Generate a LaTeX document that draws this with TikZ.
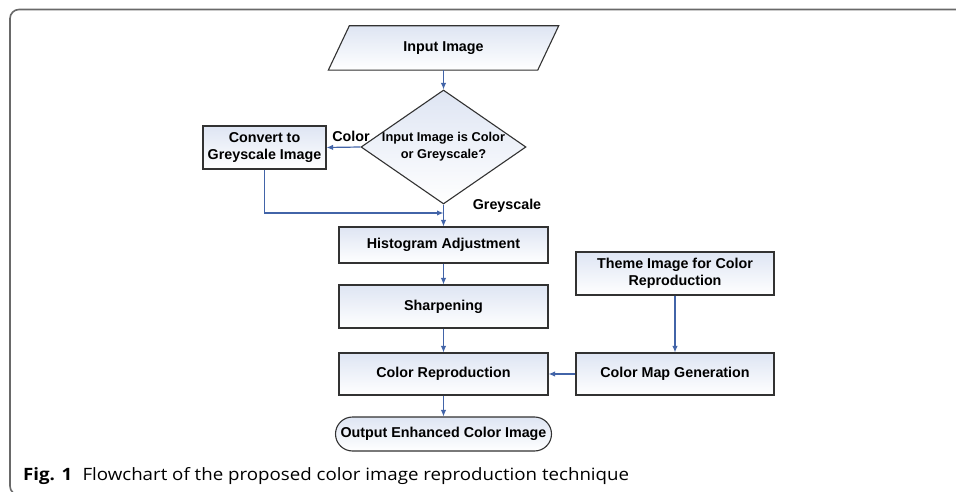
\documentclass[tikz,border=0pt]{standalone}
\usepackage{fontspec}
\setmainfont{Liberation Sans}
\newfontfamily\capfont{Open Sans}
\usetikzlibrary{shapes.geometric,arrows.meta}
\definecolor{arrowblue}{RGB}{66,100,168}
\definecolor{boxtop}{RGB}{222,229,243}
\definecolor{boxline}{RGB}{50,50,50}
\definecolor{framegray}{RGB}{105,105,105}
\tikzset{
  boxfill/.style={top color=boxtop, bottom color=white, shading=axis},
  procbox/.style={draw=boxline, line width=1.1pt, boxfill, rectangle, inner sep=0pt,
    align=center, font=\bfseries\fontsize{14.3}{17}\selectfont},
  decbox/.style={draw=boxline, line width=1.1pt, boxfill, diamond, inner sep=0pt,
    aspect=1.45, align=center, font=\bfseries\fontsize{12.8}{17}\selectfont},
  lbl/.style={font=\bfseries\fontsize{14.3}{17}\selectfont, inner sep=0pt},
  flow/.style={draw=arrowblue, line width=1.2pt, -{Latex[length=6.5pt,width=5.5pt]}},
}
\begin{document}
\begin{tikzpicture}[x=1pt,y=-1pt]
\useasboundingbox (0,0) rectangle (956,492);
\fill[white] (0,0) rectangle (956,492);
\begin{scope}
\clip (0,0) rectangle (956,492);
\draw[framegray, line width=1.6pt, rounded corners=9pt] (10,9.5) rectangle (990,495);
\end{scope}

% input parallelogram
\node[minimum width=209pt, minimum height=44pt, inner sep=0pt] (in) at (443.5,48) {};
\shade[boxfill, draw=boxline, line width=1.1pt]
  ([xshift=10.5pt]in.north west) -- ([xshift=10.5pt]in.north east) --
  ([xshift=-10.5pt]in.south east) -- ([xshift=-10.5pt]in.south west) -- cycle;
\node[lbl] at (in.center) {Input Image};

\node[decbox, minimum width=165pt, minimum height=114pt] (dia) at (443.5,147)
  {Input Image is Color\\or Greyscale?};

\node[procbox, minimum width=123pt, minimum height=43pt] (conv) at (264.5,147.5)
  {Convert to\\Greyscale Image};

\node[procbox, minimum width=209pt, minimum height=36pt] (hist) at (443.5,245)
  {Histogram Adjustment};
\node[procbox, minimum width=209pt, minimum height=43pt] (sharp) at (443.5,306.5)
  {Sharpening};
\node[procbox, minimum width=209pt, minimum height=42pt] (crep) at (443.5,374)
  {Color Reproduction};
\node[procbox, minimum width=216pt, minimum height=34pt, rounded corners=17pt] (out) at (443.5,434)
  {Output Enhanced Color Image};

\node[procbox, minimum width=198pt, minimum height=43pt] (theme) at (675,273.5)
  {Theme Image for Color\\Reproduction};
\node[procbox, minimum width=198pt, minimum height=42pt] (cmap) at (675,374)
  {Color Map Generation};

\node[lbl] (lcolor) at (351,136) {Color};
\node[lbl] (lgrey) at (507,206) {Greyscale};

\coordinate (j) at (443.5,213);

\draw[flow] (in.south) -- (dia.north);
\draw[flow] (dia.west) -- (conv.east);
\draw[flow] (conv.south) |- (j);
\draw[flow] (dia.south) -- (hist.north);
\draw[flow] (hist.south) -- (sharp.north);
\draw[flow] (sharp.south) -- (crep.north);
\draw[flow] (crep.south) -- (out.north);
\draw[flow] (theme.south) -- (cmap.north);
\draw[flow] (cmap.west) -- (crep.east);

\node[anchor=base west, inner sep=0pt, font=\capfont\fontsize{17}{20}\selectfont] (cap) at (23,480)
  {\scalebox{1.1}[1]{\textbf{Fig. 1}\hspace{0.55em}Flowchart of the proposed color image reproduction technique}};
\end{tikzpicture}
\end{document}
